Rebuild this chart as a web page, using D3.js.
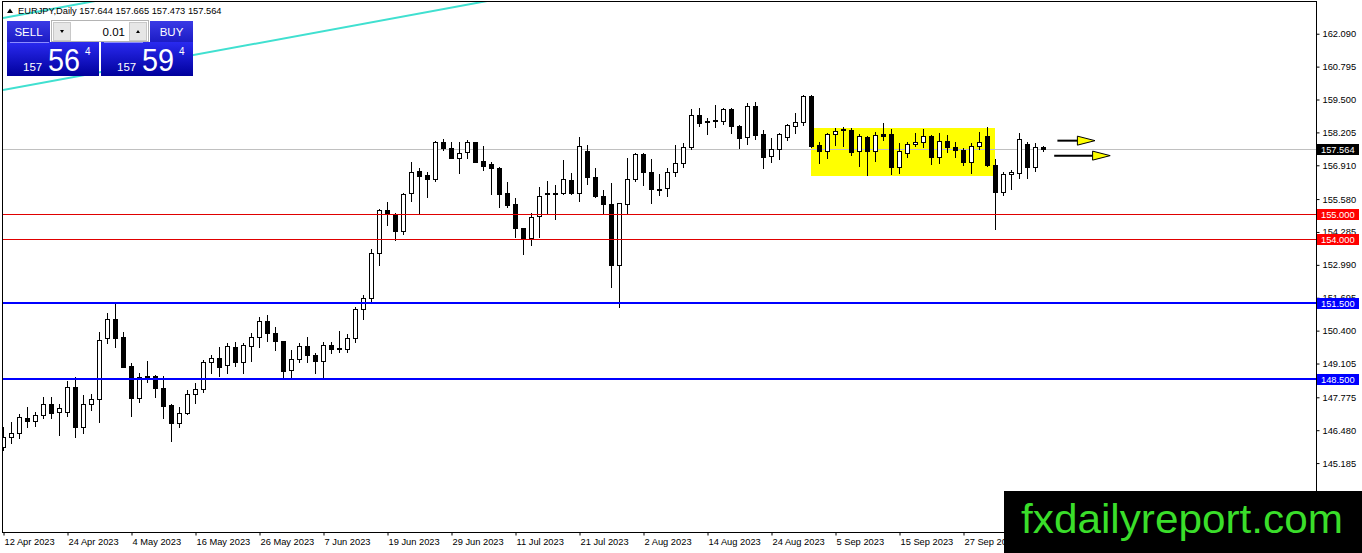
<!DOCTYPE html>
<html>
<head>
<meta charset="utf-8">
<script src="https://cdn.jsdelivr.net/npm/d3@7/dist/d3.min.js"></script>
<style>
    html, body { margin: 0; padding: 0; background: #fff; overflow: hidden; }
    svg { display: block; font-family: "Liberation Sans", Arial, sans-serif; }
</style>
</head>
<body>
<div id="chart"></div>
<script>
// ── Daily candles, EURJPY, 12 Apr 2023 → 11 Oct 2023 (index = bar number) ──
const opens = [
    145.83,146.22,146.36,146.96,146.85,147.07,147.50,147.19,147.21,148.19,
    146.62,147.50,147.70,150.12,150.85,150.14,149.01,147.76,148.56,148.61,
    148.13,147.47,146.78,147.15,147.92,148.09,149.15,149.31,149.05,149.74,
    149.18,149.81,150.14,150.77,150.30,149.98,148.85,149.27,149.80,149.44,
    149.22,149.82,149.70,149.67,150.10,151.24,151.67,153.47,155.15,154.95,
    154.33,155.81,156.70,156.53,156.37,157.82,157.58,157.19,157.45,157.82,
    157.08,156.95,156.82,155.83,155.39,154.43,154.04,154.91,155.77,155.83,
    155.81,156.33,155.81,157.47,156.44,155.70,155.39,152.98,155.39,156.36,
    157.35,156.66,155.94,156.00,156.66,156.99,157.62,158.89,158.61,158.70,
    158.67,159.13,158.46,158.01,159.24,158.13,157.28,157.55,158.01,158.45,
    158.60,159.64,157.71,157.47,158.14,158.31,158.30,157.47,158.04,157.47,
    158.14,158.14,156.85,157.41,157.74,157.82,158.06,157.25,157.87,157.62,
    157.51,157.05,157.67,158.06,156.92,155.87,156.57,156.59,157.75,156.83,
    157.644
];
const highs = [
    146.62,146.82,147.12,147.38,147.21,147.78,147.78,147.51,148.43,148.56,
    147.87,147.91,150.36,151.08,151.54,150.33,149.14,148.72,149.22,148.65,
    148.61,147.51,147.41,148.06,148.33,149.24,149.44,149.74,149.90,149.96,
    149.90,150.30,150.93,151.03,150.56,150.00,149.64,149.90,150.14,149.53,
    149.96,149.96,150.39,150.27,151.34,151.80,153.61,155.19,155.48,155.02,
    155.83,157.05,156.79,156.66,157.88,157.93,157.84,157.84,157.91,157.84,
    157.67,157.03,156.85,156.26,155.61,154.43,155.04,156.04,156.29,156.13,
    157.12,156.59,158.01,157.71,156.79,155.94,156.20,155.44,157.19,157.41,
    157.41,157.15,156.56,156.79,157.71,157.80,159.11,159.15,158.76,159.28,
    159.18,159.18,158.50,159.35,159.41,158.30,157.97,158.17,158.52,158.96,
    159.68,159.68,157.84,158.17,158.39,158.43,158.37,158.13,158.08,158.23,
    158.56,158.33,157.80,157.84,158.19,158.33,158.10,158.19,158.10,157.84,
    157.58,157.80,158.23,158.43,157.15,156.66,156.72,158.17,157.84,157.80,
    157.665
];
const lows = [
    145.70,145.99,146.16,146.59,146.65,146.95,146.95,146.29,147.04,146.22,
    146.38,147.28,146.82,149.93,149.74,148.98,147.04,147.60,148.37,147.78,
    146.97,146.07,146.59,147.12,147.54,148.00,148.72,148.61,148.74,149.01,
    148.74,149.22,149.74,150.00,149.64,148.52,148.52,149.18,149.18,148.74,
    148.52,149.51,149.57,149.57,149.96,150.85,151.54,152.98,154.56,153.97,
    154.20,155.52,154.99,155.67,156.30,157.51,157.19,156.62,157.19,157.03,
    156.72,155.77,155.28,155.26,154.10,153.41,153.77,154.10,154.99,154.78,
    155.78,155.77,155.52,156.17,155.67,155.04,152.11,151.34,155.02,156.30,
    156.13,155.44,155.74,155.70,156.49,156.83,157.54,158.46,158.13,158.43,
    158.52,158.17,157.58,157.74,157.95,156.79,157.03,157.16,157.91,158.17,
    158.50,157.64,156.99,157.21,157.71,157.68,157.32,156.89,156.53,157.08,
    157.91,156.57,156.62,157.25,157.67,157.62,156.96,157.01,157.45,157.25,
    156.92,156.62,157.54,156.88,154.39,155.74,155.96,156.40,156.40,156.70,
    157.473
];
const closes = [
    146.22,146.36,146.99,146.85,147.07,147.50,147.17,147.34,148.19,146.62,
    147.50,147.71,150.03,150.85,150.12,148.98,147.76,148.56,148.60,148.13,
    147.43,146.78,147.15,147.92,148.09,149.15,149.31,148.98,149.80,149.18,
    149.83,150.14,150.77,150.30,149.98,148.82,149.27,149.80,149.43,149.22,
    149.82,149.69,149.67,150.10,151.24,151.67,153.47,155.15,154.99,154.33,
    155.78,156.66,156.50,156.37,157.82,157.58,157.19,157.38,157.82,157.05,
    156.89,156.79,155.77,155.35,154.43,154.04,154.89,155.71,155.81,155.77,
    156.36,155.81,157.67,156.44,155.70,155.39,152.98,155.41,156.36,157.35,
    156.66,155.96,155.97,156.66,156.99,157.64,158.89,158.56,158.65,158.65,
    159.11,158.47,157.97,159.24,158.10,157.25,157.54,158.14,158.50,158.60,
    159.64,157.68,157.47,158.14,158.27,158.35,157.45,158.08,157.47,158.10,
    158.06,156.85,157.48,157.74,157.82,158.06,157.25,157.87,157.62,157.51,
    157.05,157.67,157.82,156.92,155.87,156.57,156.63,157.93,156.83,157.62,
    157.564
];

// ── Axis labels ──
const dateTickIdx = [0, 8, 16, 24, 32, 40, 48, 56, 64, 72, 80, 88, 96, 104, 112, 120];
const dateTickLabels = [
    "12 Apr 2023", "24 Apr 2023", "4 May 2023", "16 May 2023", "26 May 2023", "7 Jun 2023",
    "19 Jun 2023", "29 Jun 2023", "11 Jul 2023", "21 Jul 2023", "2 Aug 2023", "14 Aug 2023",
    "24 Aug 2023", "5 Sep 2023", "15 Sep 2023", "27 Sep 2023"
];
const priceTicks = [162.090, 160.795, 159.500, 158.205, 156.910, 155.580, 154.285, 152.990,
    151.695, 150.400, 149.105, 147.775, 146.480, 145.185];

// ── Drawn objects ──
const redLevels = [155.0, 154.0];
const blueLevels = [151.5, 148.5];
const lastPrice = 157.564;
const headerValues = ["157.644", "157.665", "157.473", "157.564"];
// yellow range box: [start bar, end bar], [low, high]
const boxBars = [101, 124];
const boxPrices = [156.50, 158.38];
// channel lines: two points each, [bar, price]
const channelLines = [
    [[0, 159.87], [59, 163.29]],
    [[0, 162.71], [10, 163.29]],
];
// arrows: [tail bar, head base bar, tip bar, price]
const arrows = [
    [131.8, 134.3, 136.5, 157.88],
    [131.4, 136.2, 138.4, 157.29],
];

const W = 1362, H = 553;
const PL = 3, PR = 1316, PT = 2, PB = 532;

const svg = d3.select("#chart").append("svg")
    .attr("width", W).attr("height", H)
    .attr("viewBox", `0 0 ${W} ${H}`);

// ── Scales ──
const x = d3.scaleLinear().domain([0, 130]).range([3, 1043]);
const y = d3.scaleLinear().domain([142.472, 163.339]).range([PB, PT]);

const defs = svg.append("defs");
defs.append("clipPath").attr("id", "plot-clip")
    .append("rect").attr("x", PL).attr("y", PT).attr("width", PR - PL).attr("height", PB - PT);

const plot = svg.append("g").attr("clip-path", "url(#plot-clip)");

// yellow box (background object)
plot.append("rect")
    .attr("x", Math.round(x(boxBars[0])))
    .attr("y", Math.round(y(boxPrices[1])))
    .attr("width", Math.round(x(boxBars[1])) - Math.round(x(boxBars[0])))
    .attr("height", Math.round(y(boxPrices[0])) - Math.round(y(boxPrices[1])))
    .attr("fill", "#ffff00");

// current price line
plot.append("line")
    .attr("x1", PL).attr("x2", PR)
    .attr("y1", Math.round(y(lastPrice)) + 0.5).attr("y2", Math.round(y(lastPrice)) + 0.5)
    .attr("stroke", "#c0c0c0");

// ── Candles ──
const bars = opens.map((o, i) => ({ i, o, h: highs[i], l: lows[i], c: closes[i] }));

const candle = plot.append("g").selectAll("g")
    .data(bars).enter().append("g");

candle.append("line")
    .attr("x1", d => Math.round(x(d.i)) + 0.5)
    .attr("x2", d => Math.round(x(d.i)) + 0.5)
    .attr("y1", d => Math.round(y(d.h)))
    .attr("y2", d => Math.round(y(d.l)) + 1)
    .attr("stroke", "#000");

candle.append("rect")
    .attr("x", d => Math.round(x(d.i)) - 1.5)
    .attr("y", d => Math.round(y(Math.max(d.o, d.c))) + 0.5)
    .attr("width", 4)
    .attr("height", d => Math.max(0, Math.round(y(Math.min(d.o, d.c))) - Math.round(y(Math.max(d.o, d.c)))))
    .attr("fill", d => d.c >= d.o ? "#fff" : "#000")
    .attr("stroke", "#000");

// horizontal levels
plot.selectAll("line.red").data(redLevels).enter().append("line")
    .attr("class", "red")
    .attr("x1", PL).attr("x2", PR)
    .attr("y1", d => Math.round(y(d)) + 0.5).attr("y2", d => Math.round(y(d)) + 0.5)
    .attr("stroke", "#e00000");

plot.selectAll("line.blue").data(blueLevels).enter().append("line")
    .attr("class", "blue")
    .attr("x1", PL).attr("x2", PR)
    .attr("y1", d => Math.round(y(d))).attr("y2", d => Math.round(y(d)))
    .attr("stroke", "#0000ff").attr("stroke-width", 2);

// channel lines (extended past the second point, clipped by the plot)
plot.selectAll("line.chan").data(channelLines).enter().append("line")
    .attr("class", "chan")
    .attr("x1", d => x(d[0][0]))
    .attr("y1", d => y(d[0][1]))
    .attr("x2", d => x(d[0][0] + (d[1][0] - d[0][0]) * 3))
    .attr("y2", d => y(d[0][1] + (d[1][1] - d[0][1]) * 3))
    .attr("stroke", "#40e0d0").attr("stroke-width", 2);

// arrows
const arrowG = plot.append("g").selectAll("g").data(arrows).enter().append("g");
arrowG.append("line")
    .attr("x1", d => x(d[0])).attr("x2", d => x(d[1]))
    .attr("y1", d => y(d[3])).attr("y2", d => y(d[3]))
    .attr("stroke", "#000").attr("stroke-width", 2);
arrowG.append("path")
    .attr("d", d => {
        const yy = y(d[3]);
        return `M${x(d[1])},${yy - 4.5}L${x(d[2])},${yy}L${x(d[1])},${yy + 4.5}Z`;
    })
    .attr("fill", "#ffff00").attr("stroke", "#000").attr("stroke-width", 1);

// ── Frame ──
svg.append("rect")
    .attr("x", PL - 0.5).attr("y", PT - 0.5)
    .attr("width", PR - PL + 1).attr("height", PB - PT + 1)
    .attr("fill", "none").attr("stroke", "#000");

// ── Axes ──
const AXIS_FONT = 9.3;

const yAxis = svg.append("g")
    .attr("transform", `translate(${PR + 0.5},0)`)
    .call(d3.axisRight(y).tickValues(priceTicks).tickFormat(d3.format(".3f"))
        .tickSize(3).tickSizeOuter(0).tickPadding(3));
yAxis.select(".domain").remove();
yAxis.selectAll("text").attr("font-size", AXIS_FONT).attr("font-family", "Liberation Sans, Arial, sans-serif")
    .attr("fill", "#000");

const xAxis = svg.append("g")
    .attr("transform", `translate(0,${PB + 0.5})`)
    .call(d3.axisBottom(x).tickValues(dateTickIdx)
        .tickFormat((d, i) => dateTickLabels[i])
        .tickSize(3).tickSizeOuter(0).tickPadding(3));
xAxis.select(".domain").remove();
xAxis.selectAll(".tick line").attr("transform", "translate(0.5,0)");
xAxis.selectAll("text")
    .attr("text-anchor", "start").attr("dx", 1).attr("dy", "0.71em")
    .attr("font-size", AXIS_FONT).attr("font-family", "Liberation Sans, Arial, sans-serif")
    .attr("fill", "#000");

// ── Price labels on the right scale ──
const priceLabels = [
    ...redLevels.map(p => ({ p, bg: "#ff0000" })),
    ...blueLevels.map(p => ({ p, bg: "#0000ff" })),
    { p: lastPrice, bg: "#000000" },
];
const pl = svg.append("g").selectAll("g").data(priceLabels).enter().append("g")
    .attr("transform", d => `translate(${PR + 1},${Math.round(y(d.p)) - 5})`);
pl.append("rect").attr("width", 42).attr("height", 11).attr("fill", d => d.bg);
pl.append("text")
    .attr("x", 4).attr("y", 8.8)
    .attr("font-size", AXIS_FONT).attr("fill", "#fff")
    .text(d => d3.format(".3f")(d.p));

// ── Header line ──
svg.append("path").attr("d", "M7,13 L10,8.5 L13,13 Z").attr("fill", "#000");
svg.append("text")
    .attr("x", 18).attr("y", 14).attr("font-size", 9.3).attr("fill", "#000")
    .text("EURJPY,Daily  " + headerValues.join(" "));

// ── One-click trading panel ──
const g1 = defs.append("linearGradient").attr("id", "bigGrad").attr("x1", 0).attr("x2", 0).attr("y1", 0).attr("y2", 1);
g1.append("stop").attr("offset", "0%").attr("stop-color", "#2a2af0");
g1.append("stop").attr("offset", "100%").attr("stop-color", "#00009c");
const g2 = defs.append("linearGradient").attr("id", "hdrGrad").attr("x1", 0).attr("x2", 0).attr("y1", 0).attr("y2", 1);
g2.append("stop").attr("offset", "0%").attr("stop-color", "#3a3ae6");
g2.append("stop").attr("offset", "100%").attr("stop-color", "#1c1cc4");

const panel = svg.append("g");
const sides = [
    { label: "SELL", hx: 7, bx: 7, big: "56", sup: "4" },
    { label: "BUY", hx: 150, bx: 101, big: "59", sup: "4" },
];
sides.forEach(s => {
    panel.append("rect").attr("x", s.hx).attr("y", 21).attr("width", 43).attr("height", 21).attr("fill", "url(#hdrGrad)");
    panel.append("text").attr("x", s.hx + 21.5).attr("y", 35.5).attr("text-anchor", "middle")
        .attr("font-size", 11.5).attr("fill", "#fff").text(s.label);
    panel.append("rect").attr("x", s.bx).attr("y", 42).attr("width", 92).attr("height", 34).attr("fill", "url(#bigGrad)");
    panel.append("line").attr("x1", s.bx + 3).attr("x2", s.bx + 42).attr("y1", 42.5).attr("y2", 42.5)
        .attr("stroke", "#8c8cff");
    panel.append("text").attr("x", s.bx + 16).attr("y", 71).attr("font-size", 11.5).attr("fill", "#fff").text("157");
    panel.append("text").attr("x", s.bx + 41).attr("y", 71).attr("font-size", 32)
        .attr("textLength", 32).attr("lengthAdjust", "spacingAndGlyphs").attr("fill", "#fff").text(s.big);
    panel.append("text").attr("x", s.bx + 78).attr("y", 55).attr("font-size", 10).attr("fill", "#fff").text(s.sup);
});
// lot size box
panel.append("rect").attr("x", 51.5).attr("y", 20.5).attr("width", 97).attr("height", 21)
    .attr("fill", "#fff").attr("stroke", "#b4b4b4");
panel.append("rect").attr("x", 53.5).attr("y", 22.5).attr("width", 17).attr("height", 18)
    .attr("fill", "#e6e6e6").attr("stroke", "#c8c8c8");
panel.append("rect").attr("x", 129.5).attr("y", 22.5).attr("width", 17).attr("height", 18)
    .attr("fill", "#e6e6e6").attr("stroke", "#c8c8c8");
panel.append("path").attr("d", "M60,30 L64,30 L62,33 Z").attr("fill", "#000");
panel.append("path").attr("d", "M136,33 L140,33 L138,30 Z").attr("fill", "#000");
panel.append("text").attr("x", 125).attr("y", 35.5).attr("text-anchor", "end")
    .attr("font-size", 11.5).attr("fill", "#000").text("0.01");

// ── Watermark ──
svg.append("rect").attr("x", 1004).attr("y", 491).attr("width", W - 1004).attr("height", H - 491).attr("fill", "#000");
svg.append("text")
    .attr("x", 1021).attr("y", 533)
    .attr("font-size", 41).attr("textLength", 322).attr("lengthAdjust", "spacingAndGlyphs")
    .attr("fill", "#3ade2a")
    .text("fxdailyreport.com");
</script>
</body>
</html>
